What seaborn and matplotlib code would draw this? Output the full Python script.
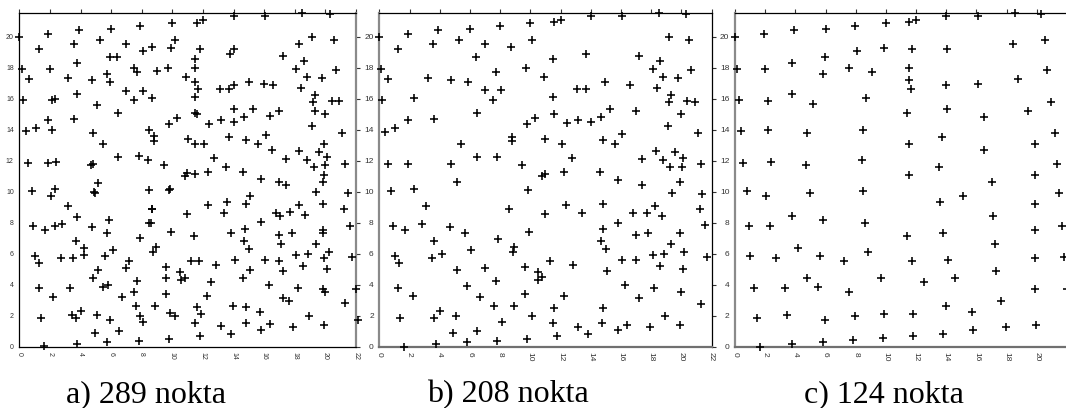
import matplotlib
matplotlib.use('Agg')
import matplotlib.pyplot as plt
import seaborn as sns

# panel a) 289 nokta
a_x = [0, 1.9, 3.9, 6.0, 7.9, 10.0, 1.3, 3.6, 5.3, 7.0, 8.1, 8.7, 9.9, 10.2, 5.9, 6.4, 3.8, 0.2, 2.0, 7.5,
       7.7, 9.0, 9.7, 10.9, 0.65, 3.2, 4.75, 5.75, 5.9, 7.0, 8.1, 0.25, 2.15, 2.3, 3.8, 5.1, 7.5, 8.65, 1.9, 3.6,
       1.1, 0.45, 2.15, 4.8, 6.45, 5.45, 8.45, 8.8, 8.8, 9.8, 10.3, 11.05, 0.6, 1.9, 2.4, 4.7, 4.8, 6.45, 7.8, 8.4,
       9.45, 10.8, 10.95,
       11.6, 12.0, 14.05, 16.05, 18.5, 20.3, 11.8, 14.0, 13.75, 11.5, 11.5, 11.5, 11.65, 11.5, 13.1, 13.7, 14.0, 15.0,
       16.0, 16.6, 17.2, 18.3, 19.1, 20.55, 18.6, 18.1, 18.8, 19.8, 20.7, 18.4, 19.3, 19.2, 20.4, 20.9, 11.45, 11.6,
       12.4, 13.15, 14.0, 14.0, 14.7, 15.3, 16.4, 17.0, 19.35, 20.0, 19.1, 21.1, 11.5, 12.1, 13.7, 14.8, 15.6, 16.1,
       16.5, 12.7, 13.5, 14.6, 12.3, 11.5, 17.4, 18.3, 18.8, 19.25, 19.6, 19.9, 20.1, 20.0, 21.3, 19.9, 15.8,
       0.8, 2.05, 2.35, 4.9, 4.95, 5.15, 8.45, 9.75, 9.85, 8.65, 8.7, 10.95, 3.15, 3.8, 0.9, 1.7, 2.35, 2.8, 4.75, 5.85,
       5.75, 8.5, 8.6, 9.9, 7.9, 3.7, 4.2, 4.2, 6.15, 8.95, 8.75, 1.0, 1.3, 2.7, 3.5, 5.6, 5.15, 7.15, 7.0, 9.6,
       10.5, 10.55, 10.8, 9.6, 4.8, 7.7, 1.3, 3.3, 5.5, 5.8, 7.5, 6.7, 2.2, 9.6, 8.85, 7.6, 3.45, 3.7, 4.0, 5.05,
       5.9, 7.9, 8.1, 9.85, 10.15, 1.45, 4.95, 6.5, 1.6, 3.75, 5.75, 7.8, 9.8,
       16.95, 17.4, 19.85, 19.4, 21.45, 19.85, 21.2, 18.25, 18.7, 17.7, 16.8, 17.05, 15.8, 15.1, 14.8, 13.6, 13.4, 12.3,
       21.6, 19.85, 19.85, 19.4, 20.25, 21.75, 19.9, 20.1, 18.85, 18.1, 18.55, 17.8, 16.95, 17.1, 16.95, 17.25, 16.05,
       15.1, 14.6, 14.1, 12.85, 11.75, 11.25, 11.4, 13.8, 14.75, 14.7, 15.0, 12.5, 16.3, 18.2, 19.85, 19.95, 22.0,
       12.25, 17.2, 17.6, 21.25, 11.6, 11.85, 13.95, 14.8, 15.75, 18.9, 22.1, 11.5, 13.2, 14.8, 16.4, 17.9, 19.9, 15.8,
       13.8, 11.8]
a_y = [20.0, 20.15, 20.4, 20.5, 20.7, 20.9, 19.2, 19.5, 19.8, 19.5, 19.1, 19.3, 19.25, 19.75, 18.7, 18.65, 18.3, 17.9,
       17.9, 18.0, 17.7, 17.75, 17.95, 17.4, 17.25, 17.3, 17.2, 17.6, 17.05, 16.5, 16.5, 15.9, 15.9, 16.0, 16.3, 15.6,
       15.9, 16.05, 14.65, 14.7, 14.1, 13.9, 13.95, 13.75, 15.1, 13.1, 14.0, 13.6, 13.25, 14.35, 14.75, 13.4, 11.85,
       11.85, 11.9, 11.7, 11.8, 12.25, 12.3, 12.05, 11.7, 11.0, 11.2,
       20.9, 21.1, 21.35, 21.35, 21.5, 21.45, 19.2, 19.2, 18.85, 18.55, 17.95, 17.05, 16.6, 16.1, 16.6, 16.6, 16.9,
       17.1, 16.95, 16.85, 18.75, 19.55, 20.0, 19.75, 18.4, 17.9, 17.4, 17.35, 17.85, 16.7, 16.25, 15.8, 15.85, 15.85,
       15.05, 15.0, 14.35, 14.6, 14.5, 15.35, 14.8, 15.3, 14.85, 15.2, 15.2, 15.0, 14.25, 13.8, 13.1, 13.1, 13.55,
       13.3, 13.1, 13.65, 12.7, 12.15, 11.6, 11.25, 11.25, 11.15, 12.1, 12.6, 12.05, 11.6, 12.55, 13.1, 12.25, 11.7,
       11.8, 11.1, 10.8,
       10.05, 9.75, 10.15, 9.95, 9.9, 10.55, 10.1, 10.1, 10.15, 8.85, 8.9, 8.55, 9.05, 8.35, 7.8, 7.5, 7.8, 7.9, 7.7,
       8.15, 7.35, 8.0, 7.95, 7.4, 7.0, 6.8, 6.35, 5.9, 6.25, 6.45, 6.1, 5.85, 5.4, 5.7, 5.7, 5.85, 4.95, 5.55, 5.1,
       5.15, 4.8, 4.3, 4.45, 4.4, 4.45, 4.25, 3.8, 3.8, 3.85, 3.95, 3.5, 3.2, 3.2, 3.4, 2.65, 2.65, 2.05, 1.85, 2.3,
       2.05, 1.75, 1.95, 1.6, 2.15, 1.95, 1.85, 0.9, 1.0, 0.05, 0.15, 0.3, 0.35, 0.5,
       10.6, 10.45, 10.6, 9.95, 9.9, 9.2, 8.85, 9.15, 8.5, 8.7, 8.65, 8.45, 8.05, 9.75, 9.2, 9.35, 8.65, 9.15,
       7.8, 7.55, 7.35, 6.65, 6.1, 5.8, 5.7, 5.0, 5.95, 5.9, 5.2, 7.35, 7.2, 6.65, 5.55, 4.85, 5.6,
       4.95, 4.4, 5.6, 5.25, 5.5, 5.5, 7.15, 7.3, 7.6, 6.8, 6.3, 4.2, 4.0, 3.8, 3.7, 3.55, 3.75,
       3.3, 3.15, 2.95, 2.8, 2.55, 2.1, 2.6, 2.55, 2.25, 1.95, 1.7, 1.5, 1.35, 1.5, 1.45, 1.3, 1.4, 1.05,
       0.85, 0.7]

# panel b) 208 nokta
b_x = [0, 1.9, 3.9, 6.0, 8.0, 10.0, 1.25, 3.55, 5.3, 7.0, 8.7, 10.1, 6.4, 0.1, 0.6, 3.25, 4.75, 5.9, 7.7, 9.7,
       0.2, 2.3, 7.0, 8.05, 7.5, 1.9, 3.6, 1.05, 0.4, 6.5, 5.4, 8.8, 8.8, 9.75, 10.3, 0.55, 1.9, 4.75, 6.5, 7.8, 9.45,
       11.55, 12.0, 14.0, 16.1, 18.5, 20.3, 19.2, 20.5, 11.5, 13.7, 17.2, 18.6, 18.1, 18.8, 19.8, 20.65, 10.9, 14.95,
       16.6, 13.1, 13.7, 11.5, 18.4, 19.3, 19.2, 20.4, 20.9, 15.3, 17.0, 11.6, 12.4, 13.15, 14.0, 14.65, 20.0, 19.15,
       21.1, 11.0, 12.1, 14.8, 15.6, 16.1, 12.75, 17.4, 18.3, 18.8, 19.6, 20.1, 19.25, 20.05, 21.3, 10.8, 10.95, 12.25,
       14.6,
       0.8, 2.3, 5.15, 3.1, 8.6, 9.85, 0.9, 1.7, 2.8, 4.7, 5.7, 7.85, 9.9, 3.65, 3.5, 4.15, 6.1, 8.95, 8.85, 1.05,
       1.3, 5.15, 7.0, 9.65, 1.25, 2.25, 5.8, 6.7, 7.7, 9.65, 7.6, 8.9, 1.4, 3.65, 4.0, 5.1, 8.1, 10.1, 4.9, 6.5,
       1.65, 3.75, 5.8, 7.8, 9.75,
       15.8, 17.4, 19.9, 19.4, 21.4, 12.35, 14.8, 18.25, 10.95, 13.4, 16.8, 17.7, 18.7, 15.8, 21.25, 21.6, 14.8, 17.0,
       17.8, 19.9, 14.7, 15.0, 19.35, 20.2, 21.7, 11.3, 12.85, 16.1, 17.0, 18.1, 18.85, 18.6, 20.1, 10.5, 10.5, 10.75,
       15.1, 16.3, 18.2, 19.95, 12.2, 17.2, 21.3, 11.6, 14.8, 18.9, 11.5, 13.15, 14.75, 16.4, 17.9, 19.9, 13.8, 15.8,
       11.8]
b_y = [20.0, 20.15, 20.4, 20.5, 20.7, 20.9, 19.2, 19.5, 19.8, 19.5, 19.3, 19.75, 18.65, 17.9, 17.25, 17.35, 17.2,
       17.05, 17.7, 17.95, 15.9, 16.05, 16.55, 16.55, 15.9, 14.6, 14.7, 14.1, 13.85, 15.1, 13.1, 13.55, 13.25, 14.35,
       14.75, 11.8, 11.8, 11.8, 12.25, 12.25, 11.7,
       20.95, 21.1, 21.35, 21.35, 21.5, 21.45, 20.0, 19.75, 18.55, 18.85, 18.75, 18.4, 17.9, 17.4, 17.35, 17.85, 17.4,
       17.05, 16.85, 16.6, 16.6, 16.1, 16.7, 16.25, 15.75, 15.85, 15.8, 15.35, 15.2, 15.0, 14.4, 14.6, 14.5, 14.8,
       15.0, 14.25, 13.8, 13.4, 13.1, 13.3, 13.1, 13.7, 12.15, 12.1, 12.6, 12.05, 12.55, 12.2, 11.6, 11.6, 11.8, 11.0,
       11.15, 11.25, 11.25,
       10.05, 10.15, 10.6, 9.05, 8.9, 10.1, 7.8, 7.5, 7.9, 7.75, 7.35, 6.95, 7.4, 6.8, 5.7, 5.95, 6.25, 6.45, 6.1,
       5.85, 5.4, 4.95, 5.1, 5.15, 3.8, 3.25, 3.9, 3.2, 4.25, 3.4, 2.6, 2.65, 1.85, 1.85, 2.3, 2.0, 1.6, 1.95, 0.9,
       1.0, 0.0, 0.15, 0.3, 0.35, 0.5,
       10.75, 10.45, 10.6, 9.9, 9.85, 9.15, 9.2, 9.1, 8.55, 8.6, 8.6, 8.65, 8.45, 8.0, 8.85, 7.85, 7.6, 7.2, 7.35,
       7.35, 6.8, 6.3, 6.6, 6.1, 5.8, 5.55, 5.25, 5.57, 5.57, 5.9, 5.95, 5.2, 5.0, 4.8, 4.3, 4.5, 4.9, 3.95, 3.8, 3.5,
       3.25, 3.15, 2.75, 2.5, 2.5, 1.95, 1.5, 1.3, 1.5, 1.4, 1.3, 1.4, 0.85, 1.05, 0.7]

# panel c) 124 nokta
c_x = [0, 1.9, 3.9, 6.0, 7.95, 10.0, 8.1, 9.9, 5.95, 3.8, 0.1, 2.0, 5.8, 7.55, 9.1, 0.25, 2.2, 3.8, 5.15, 8.65,
       0.4, 2.2, 4.8, 8.45, 0.55, 2.4, 4.7, 8.4, 0.8, 2.05, 4.95, 8.5, 0.9, 2.35, 3.8, 5.8, 8.6, 1.0, 2.7, 4.2,
       5.6, 7.2, 8.8, 1.25, 3.3, 4.8, 5.5, 7.55, 9.65, 1.45, 3.45, 5.95, 7.95, 9.9, 1.65, 3.8, 5.85, 7.85, 9.8,
       11.55, 12.0, 14.0, 16.1, 18.55, 20.3, 11.75, 14.05, 18.4, 20.55, 11.5, 11.5, 11.65, 13.95, 16.1, 18.75, 20.7,
       11.4, 14.05, 16.5, 19.4, 20.95, 11.5, 13.7, 16.5, 19.9, 21.2, 11.5, 13.5, 17.0, 19.9, 21.35, 13.6, 15.1, 17.1,
       19.9, 21.5, 11.4, 13.8, 17.2, 19.9, 21.7, 11.75, 14.1, 17.3, 19.9, 21.8, 12.5, 14.6, 19.9, 22.0, 11.8, 13.95,
       15.7, 17.6, 11.8, 13.8, 15.8, 17.95, 19.95]
c_y = [20.0, 20.15, 20.4, 20.5, 20.7, 20.9, 19.1, 19.25, 18.7, 18.3, 17.9, 17.9, 17.6, 18.0, 17.7, 15.9, 15.85,
       16.3, 15.65, 16.05, 13.9, 13.95, 13.75, 14.0, 11.85, 11.9, 11.7, 12.05, 10.05, 9.75, 9.9, 10.05, 7.8, 7.8, 8.4,
       8.15, 8.0, 5.85, 5.75, 6.35, 5.85, 5.55, 6.1, 3.8, 3.8, 4.45, 3.85, 3.55, 4.45, 1.85, 2.05, 1.75, 1.95, 2.1,
       0.0, 0.15, 0.3, 0.4, 0.55,
       20.95, 21.1, 21.35, 21.35, 21.5, 21.45, 19.2, 19.2, 19.5, 19.75, 17.95, 17.2, 16.6, 16.9, 16.95, 17.25, 17.85,
       15.05, 15.35, 14.8, 15.2, 15.8, 13.1, 13.55, 12.7, 13.1, 13.8, 11.1, 11.6, 10.6, 11.05, 11.8, 9.35, 9.75, 8.45,
       9.2, 9.9, 7.15, 7.3, 6.6, 7.55, 7.8, 5.5, 5.6, 4.85, 5.7, 5.8, 4.2, 4.4, 3.7, 3.75, 2.1, 2.6, 2.25, 2.95, 0.7,
       0.85, 1.05, 1.25, 1.4]

captions = ['a) 289 nokta', 'b) 208 nokta', 'c) 124 nokta']
x_ticks = list(range(0, 23, 2))
y_ticks = list(range(0, 21, 2))

sns.set_theme(style='white')
plt.rcParams['font.family'] = ['Liberation Sans', 'DejaVu Sans']

W, H = 1066, 408
fig = plt.figure(figsize=(W / 100, H / 100), dpi=100)

top_px, bot_px = 13.3, 346.7
panels = [
    (a_x, a_y, 19.3, 336.7, 5, 146),
    (b_x, b_y, 379.3, 332.2, 6, 508),
    (c_x, c_y, 735.0, 332.0, 6, 884),
]
# spine colours per panel (left, right, top, bottom)
spine_cols = [
    dict(left='black', right='#8a8a8a', top='black', bottom='black'),
    dict(left='#8a8a8a', right='black', top='black', bottom='#707070'),
    dict(left='#8a8a8a', right='black', top='black', bottom='#707070'),
]

for i, (xs, ys, left, width, lsize, cap_x) in enumerate(panels):
    ax = fig.add_axes([left / W, (H - bot_px) / H, width / W, (bot_px - top_px) / H])
    sns.scatterplot(x=xs, y=ys, marker='+', color='black', s=26, linewidth=1.15,
                    clip_on=False, ax=ax, zorder=3)
    ax.set_xlim(0, 22)
    ax.set_ylim(0, 21.5)
    ax.set_xticks(x_ticks)
    ax.set_yticks(y_ticks)
    ax.set_xticklabels([str(t) for t in x_ticks], rotation=-90)
    ax.tick_params(direction='out', length=3, width=0.8, color='#333333',
                   top=True, right=True, labelsize=lsize, labelcolor='#333333', pad=1)
    ax.set_xlabel('')
    ax.set_ylabel('')
    for side, col in spine_cols[i].items():
        ax.spines[side].set_color(col)
        ax.spines[side].set_linewidth(1.6 if col != 'black' else 0.9)
        ax.spines[side].set_visible(True)
    fig.text(cap_x / W, (H - 402) / H, captions[i], ha='center', va='baseline',
             family='Liberation Serif', fontsize=23, color='black')

fig.savefig('out.png', dpi=100)
